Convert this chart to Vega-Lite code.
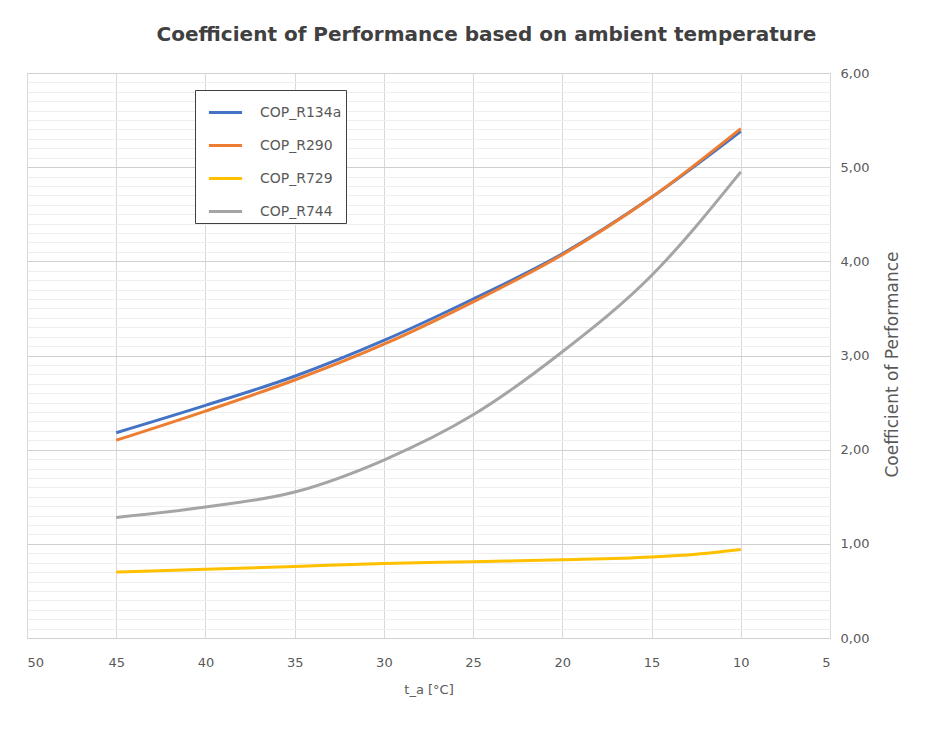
{
  "$schema": "https://vega.github.io/schema/vega-lite/v6.json",
  "width": 803,
  "height": 565,
  "autosize": {"type": "none"},
  "padding": {"left": 27, "top": 73, "right": 103, "bottom": 92},
  "background": "white",
  "title": {
    "text": "Coefficient of Performance based on ambient temperature",
    "font": "DejaVu Sans",
    "fontSize": 20,
    "fontWeight": "bold",
    "color": "#404040",
    "offset": 22,
    "dx": 58
  },
  "data": {
    "values": [
      {"t": 45, "series": "COP_R134a", "cop": 2.18},
      {"t": 40, "series": "COP_R134a", "cop": 2.47},
      {"t": 35, "series": "COP_R134a", "cop": 2.78},
      {"t": 30, "series": "COP_R134a", "cop": 3.16},
      {"t": 25, "series": "COP_R134a", "cop": 3.60},
      {"t": 20, "series": "COP_R134a", "cop": 4.08},
      {"t": 15, "series": "COP_R134a", "cop": 4.68},
      {"t": 10, "series": "COP_R134a", "cop": 5.38},
      {"t": 45, "series": "COP_R290", "cop": 2.10},
      {"t": 40, "series": "COP_R290", "cop": 2.41},
      {"t": 35, "series": "COP_R290", "cop": 2.74},
      {"t": 30, "series": "COP_R290", "cop": 3.12},
      {"t": 25, "series": "COP_R290", "cop": 3.57},
      {"t": 20, "series": "COP_R290", "cop": 4.07},
      {"t": 15, "series": "COP_R290", "cop": 4.68},
      {"t": 10, "series": "COP_R290", "cop": 5.41},
      {"t": 45, "series": "COP_R729", "cop": 0.70},
      {"t": 40, "series": "COP_R729", "cop": 0.73},
      {"t": 35, "series": "COP_R729", "cop": 0.76},
      {"t": 30, "series": "COP_R729", "cop": 0.79},
      {"t": 25, "series": "COP_R729", "cop": 0.81},
      {"t": 20, "series": "COP_R729", "cop": 0.83},
      {"t": 15, "series": "COP_R729", "cop": 0.86},
      {"t": 12.5, "series": "COP_R729", "cop": 0.89},
      {"t": 10, "series": "COP_R729", "cop": 0.94},
      {"t": 45, "series": "COP_R744", "cop": 1.28},
      {"t": 40, "series": "COP_R744", "cop": 1.39},
      {"t": 35, "series": "COP_R744", "cop": 1.55},
      {"t": 30, "series": "COP_R744", "cop": 1.89},
      {"t": 25, "series": "COP_R744", "cop": 2.37},
      {"t": 20, "series": "COP_R744", "cop": 3.04},
      {"t": 15, "series": "COP_R744", "cop": 3.85},
      {"t": 10, "series": "COP_R744", "cop": 4.95}
    ]
  },
  "mark": {"type": "line", "strokeWidth": 3, "interpolate": "monotone"},
  "encoding": {
    "x": {
      "field": "t",
      "type": "quantitative",
      "scale": {"domain": [5, 50], "reverse": true, "nice": false, "zero": false},
      "axis": {
        "title": "t_a [°C]",
        "values": [5, 10, 15, 20, 25, 30, 35, 40, 45, 50],
        "domain": false,
        "ticks": false,
        "labelPadding": 18,
        "labelFont": "DejaVu Sans",
        "labelFontSize": 13,
        "labelColor": "#595959",
        "titleFont": "DejaVu Sans",
        "titleFontSize": 13,
        "titleFontWeight": "normal",
        "titleColor": "#595959",
        "titlePadding": 14,
        "gridColor": "#d9d9d9"
      }
    },
    "y": {
      "field": "cop",
      "type": "quantitative",
      "scale": {"domain": [0, 6], "nice": false},
      "axis": {
        "orient": "right",
        "title": "Coefficient of Performance",
        "titleAngle": -90,
        "titleBaseline": "middle",
        "titleX": 62,
        "titleY": 291,
        "titleFont": "DejaVu Sans",
        "titleFontSize": 17,
        "titleFontWeight": "normal",
        "titleColor": "#595959",
        "values": [0, 0.1, 0.2, 0.3, 0.4, 0.5, 0.6, 0.7, 0.8, 0.9, 1, 1.1, 1.2, 1.3, 1.4, 1.5, 1.6, 1.7, 1.8, 1.9, 2, 2.1, 2.2, 2.3, 2.4, 2.5, 2.6, 2.7, 2.8, 2.9, 3, 3.1, 3.2, 3.3, 3.4, 3.5, 3.6, 3.7, 3.8, 3.9, 4, 4.1, 4.2, 4.3, 4.4, 4.5, 4.6, 4.7, 4.8, 4.9, 5, 5.1, 5.2, 5.3, 5.4, 5.5, 5.6, 5.7, 5.8, 5.9, 6],
        "labelExpr": "abs(round(datum.value) - datum.value) < 0.001 ? replace(format(datum.value, '.2f'), '.', ',') : ''",
        "labelFont": "DejaVu Sans",
        "labelFontSize": 13,
        "labelColor": "#595959",
        "labelPadding": 10,
        "labelOverlap": false,
        "domain": false,
        "ticks": false,
        "gridColor": {
          "condition": {"test": "abs(round(datum.value) - datum.value) < 0.001", "value": "#d0d0d0"},
          "value": "#eeeeee"
        }
      }
    },
    "color": {
      "field": "series",
      "type": "nominal",
      "scale": {
        "domain": ["COP_R134a", "COP_R290", "COP_R729", "COP_R744"],
        "range": ["#4472C4", "#ED7D31", "#FFC000", "#A5A5A5"]
      },
      "legend": {
        "title": null,
        "orient": "none",
        "legendX": 168,
        "legendY": 17,
        "symbolType": "stroke",
        "symbolStrokeWidth": 3,
        "symbolSize": 1100,
        "symbolOffset": 8,
        "labelFont": "DejaVu Sans",
        "labelFontSize": 14,
        "labelColor": "#595959",
        "labelOffset": 16,
        "rowPadding": 7,
        "padding": 4,
        "strokeColor": "#404040",
        "fillColor": "white"
      }
    }
  }
}
